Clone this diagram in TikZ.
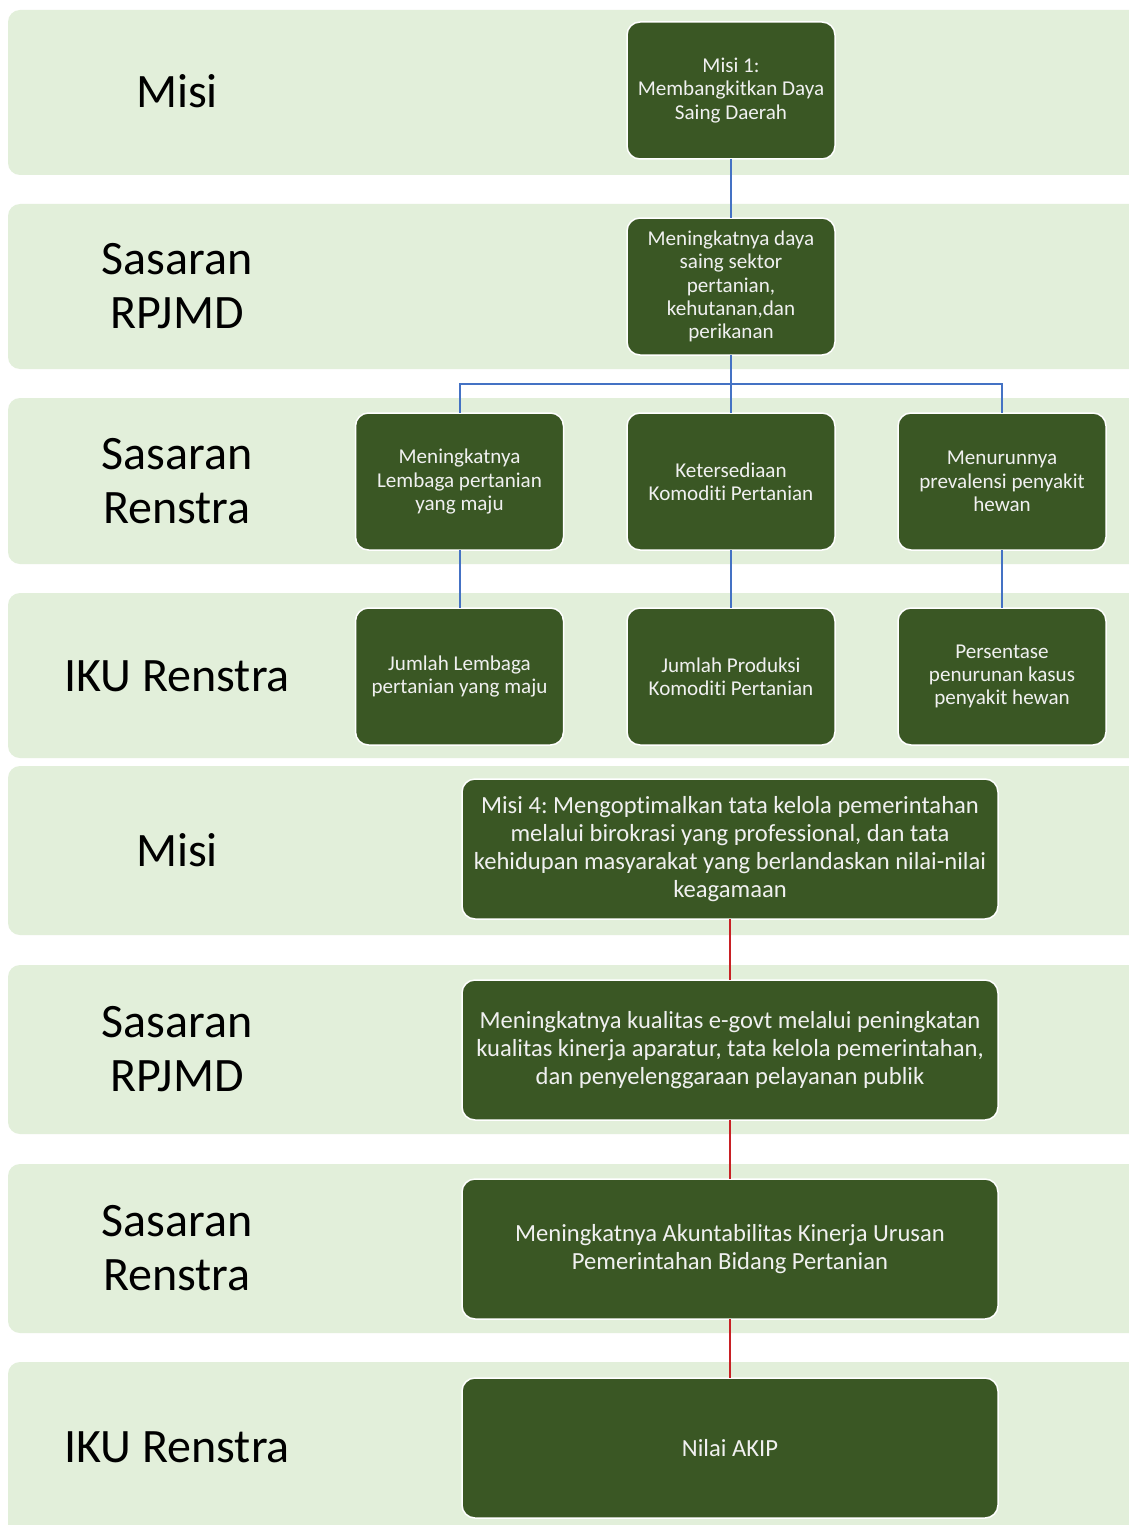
\documentclass[tikz,border=0pt]{standalone}
\usepackage{fontspec}
\setmainfont{Carlito}[Ligatures={NoCommon}]
\frenchspacing
\definecolor{band}{RGB}{226,239,218}
\definecolor{dkgreen}{RGB}{58,87,36}
\definecolor{bluel}{RGB}{68,114,196}
\definecolor{redl}{RGB}{200,32,36}
\definecolor{txtw}{RGB}{240,240,240}
\begin{document}
\begin{tikzpicture}[x=1pt,y=-1pt,
  bandbox/.style={fill=band, draw=none, rounded corners=12pt},
  rowlabel/.style={align=center, font=\fontsize{48}{54}\selectfont, text=black, inner sep=0pt},
  smallbox/.style={draw=white, line width=1.5pt, fill=dkgreen, rounded corners=13pt,
     minimum width=208pt, minimum height=137pt, inner sep=0pt, outer sep=0pt,
     align=center, text=txtw, font=\fontsize{21.1}{23.3}\selectfont\frenchspacing},
  widebox/.style={draw=white, line width=1.5pt, fill=dkgreen, rounded corners=13pt,
     minimum width=536pt, minimum height=140pt, inner sep=0pt, outer sep=0pt,
     align=center, text=txtw, font=\fontsize{24.6}{28}\selectfont\frenchspacing},
  blueline/.style={draw=bluel, line width=2pt},
  redline/.style={draw=redl, line width=2pt}]
\useasboundingbox (0,0) rectangle (1129,1525);
\fill[white] (0,0) rectangle (1129,1525);
% bands
\foreach \ya/\yb in {10/175, 204/369, 398/564, 593/758, 766/935, 965/1134, 1164/1333, 1362/1540}{
  \path[bandbox] (8,\ya) rectangle (1160,\yb);
}
% row labels
\node[rowlabel] (l1) at (177,91) {Misi};
\node[rowlabel] (l2) at (177,286.5) {Sasaran\\RPJMD};
\node[rowlabel] (l3) at (177,481.5) {Sasaran\\Renstra};
\node[rowlabel] (l4) at (177,676) {IKU Renstra};
\node[rowlabel] (l5) at (177,850) {Misi};
\node[rowlabel] (l6) at (177,1049) {Sasaran\\RPJMD};
\node[rowlabel] (l7) at (177,1248.5) {Sasaran\\Renstra};
\node[rowlabel] (l8) at (177,1447) {IKU Renstra};
% upper part
\node[smallbox] (m1) at (731,90.5) {Misi 1:\\Membangkitkan Daya\\Saing Daerah};
\node[smallbox] (s1) at (731,286.5) {Meningkatnya daya\\saing sektor\\pertanian,\\kehutanan,dan\\perikanan};
\node[smallbox] (r3a) at (459.5,481.5) {Meningkatnya\\Lembaga pertanian\\yang maju};
\node[smallbox] (r3b) at (731,481.5) {Ketersediaan\\Komoditi Pertanian};
\node[smallbox] (r3c) at (1002,481.5) {Menurunnya\\prevalensi penyakit\\hewan};
\node[smallbox] (r4a) at (459.5,676.5) {Jumlah Lembaga\\pertanian yang maju};
\node[smallbox] (r4b) at (731,676.5) {Jumlah Produksi\\Komoditi Pertanian};
\node[smallbox] (r4c) at (1002,676.5) {Persentase\\penurunan kasus\\penyakit hewan};
% lower part
\node[widebox] (m4) at (730,849) {Misi 4: Mengoptimalkan tata kelola pemerintahan\\melalui birokrasi yang professional, dan tata\\kehidupan masyarakat yang berlandaskan nilai-nilai\\keagamaan};
\node[widebox] (s2) at (730,1050) {Meningkatnya kualitas e-govt melalui peningkatan\\kualitas kinerja aparatur, tata kelola pemerintahan,\\dan penyelenggaraan pelayanan publik};
\node[widebox] (r7) at (730,1249) {Meningkatnya Akuntabilitas Kinerja Urusan\\Pemerintahan Bidang Pertanian};
\node[widebox] (r8) at (730,1448) {Nilai AKIP};
% connectors
\coordinate (br) at (731,384);
\draw[blueline] (m1.south) -- (s1.north);
\draw[blueline] (s1.south) -- (r3b.north);
\draw[blueline] (br) -| (r3a.north);
\draw[blueline] (br) -| (r3c.north);
\draw[blueline] (r3a.south) -- (r4a.north);
\draw[blueline] (r3b.south) -- (r4b.north);
\draw[blueline] (r3c.south) -- (r4c.north);
\draw[redline] (m4.south) -- (s2.north);
\draw[redline] (s2.south) -- (r7.north);
\draw[redline] (r7.south) -- (r8.north);
\end{tikzpicture}
\end{document}
